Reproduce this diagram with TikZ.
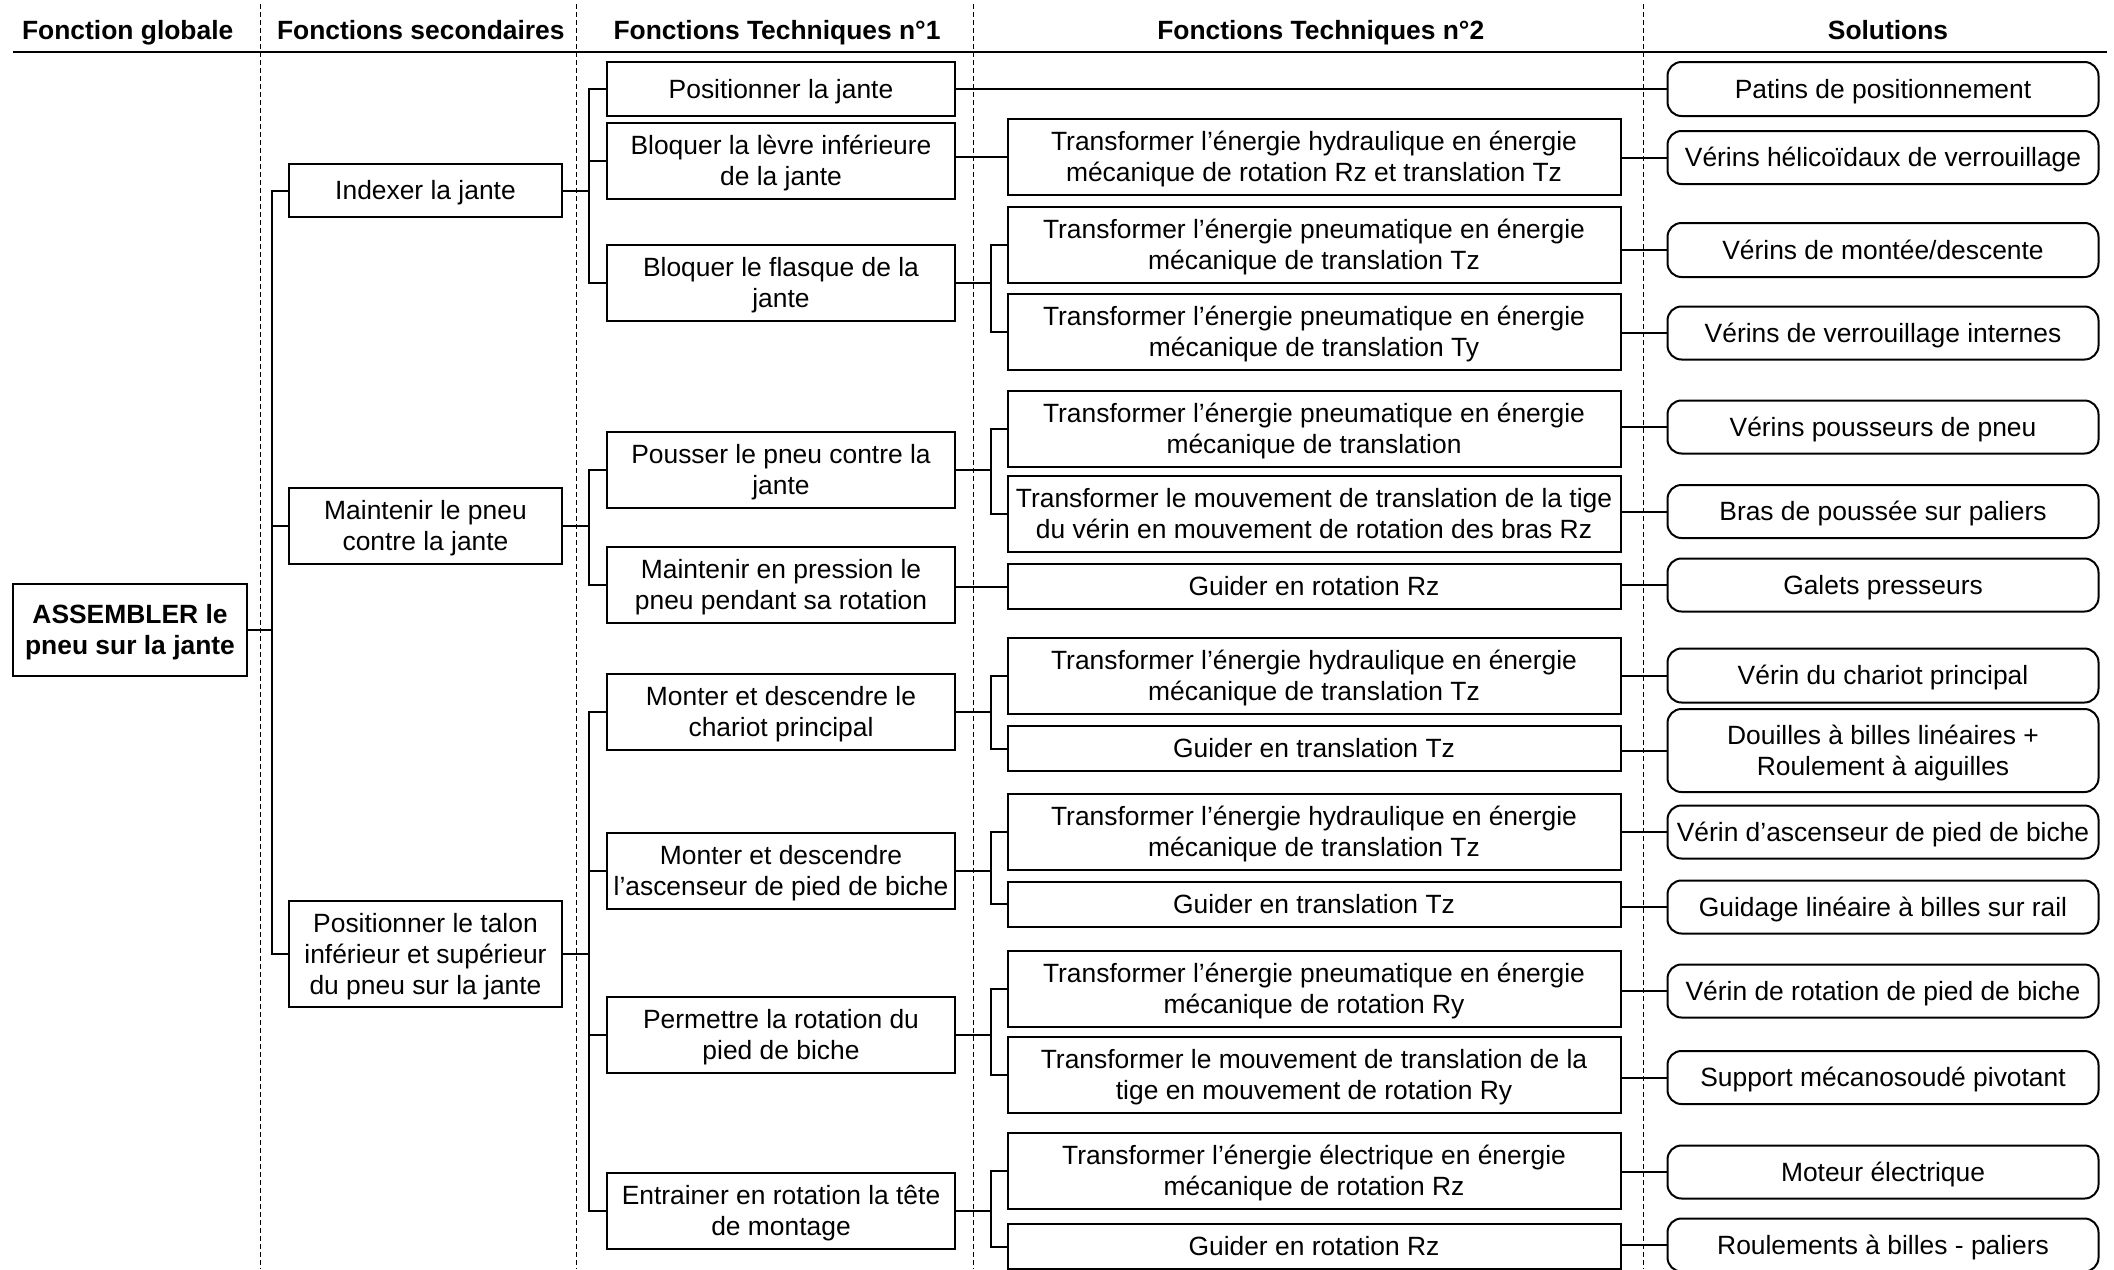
\documentclass[tikz,border=0pt]{standalone}
\usepackage{fontspec}
\setmainfont{Liberation Sans}
\newcommand\diagfont{\fontsize{26.4}{31}\selectfont}
\newcommand\linestrut{\rule[-5.6pt]{0pt}{29.5pt}}
\begin{document}
\begin{tikzpicture}[x=1pt,y=-1pt,
  fbox/.style={draw, line width=2pt, inner sep=0pt, outer sep=0pt, align=center, font=\diagfont,
    execute at begin node=\linestrut, execute at end node=\linestrut},
  ht/.style={minimum height=#1pt},
  glob/.style={fbox, line width=2.7pt, minimum width=234pt, font=\diagfont\bfseries},
  sec/.style={fbox, minimum width=273pt},
  fta/.style={fbox, minimum width=348pt},
  ftb/.style={fbox, minimum width=613pt},
  sol/.style={fbox, rounded corners=14pt, minimum width=431pt},
  conn/.style={line width=2pt},
  sepline/.style={line width=1pt, dash pattern=on 5pt off 3pt},
  hdr/.style={inner sep=0pt, font=\diagfont\bfseries,
    execute at begin node=\linestrut},
  rule/.style={line width=2.7pt}]
\fill[white] (0,0) rectangle (2114,1269);
\useasboundingbox (0,0) rectangle (2114,1269);

% column separators
\draw[sepline] (260,4) -- (260,1269);
\draw[sepline] (576,4) -- (576,1269);
\draw[sepline] (973.5,4) -- (973.5,1269);
\draw[sepline] (1643,4) -- (1643,1269);

% headers
\node[hdr] (h1) at (127.7,30) {Fonction globale};
\node[hdr] (h2) at (420.8,30) {Fonctions secondaires};
\node[hdr] (h3) at (777,30) {Fonctions Techniques n°1};
\node[hdr] (h4) at (1320.7,30) {Fonctions Techniques n°2};
\node[hdr] (h5) at (1888,30) {Solutions};
\coordinate (rl) at (13,52);
\coordinate (rr) at (2107,52);
\draw[rule] (rl) -- (rr);

% bus coordinates
\coordinate (b0) at (271.5,0);
\coordinate (b1) at (589,0);
\coordinate (b2) at (991,0);

% global function
\node[glob, ht=92] (g) at (130,630) {\linestrut ASSEMBLER le\\pneu sur la jante\linestrut};

% secondary functions
\node[sec, ht=53] (sa) at (425.5,190.5) {Indexer la jante};
\node[sec, ht=76] (sb) at (425.5,526) {\linestrut Maintenir le pneu\\contre la jante\linestrut};
\node[sec, ht=106] (sc) at (425.5,954) {\linestrut Positionner le talon\\inférieur et supérieur\\du pneu sur la jante\linestrut};

% technical functions 1
\node[fta, ht=54] (p1) at (781,89) {Positionner la jante};
\node[fta, ht=76] (p2) at (781,161) {\linestrut Bloquer la lèvre inférieure\\de la jante\linestrut};
\node[fta, ht=76] (p3) at (781,283) {\linestrut Bloquer le flasque de la\\jante\linestrut};
\node[fta, ht=76] (p4) at (781,470) {\linestrut Pousser le pneu contre la\\jante\linestrut};
\node[fta, ht=76] (p5) at (781,585) {\linestrut Maintenir en pression le\\pneu pendant sa rotation\linestrut};
\node[fta, ht=76] (p6) at (781,712) {\linestrut Monter et descendre le\\chariot principal\linestrut};
\node[fta, ht=76] (p7) at (781,871) {\linestrut Monter et descendre\\l’ascenseur de pied de biche\linestrut};
\node[fta, ht=76] (p8) at (781,1035) {\linestrut Permettre la rotation du\\pied de biche\linestrut};
\node[fta, ht=76] (p9) at (781,1211) {\linestrut Entrainer en rotation la tête\\de montage\linestrut};

% technical functions 2
\node[ftb, ht=76] (qa) at (1314,157) {\linestrut Transformer l’énergie hydraulique en énergie\\mécanique de rotation Rz et translation Tz\linestrut};
\node[ftb, ht=76] (qb) at (1314,245) {\linestrut Transformer l’énergie pneumatique en énergie\\mécanique de translation Tz\linestrut};
\node[ftb, ht=76] (qc) at (1314,331.5) {\linestrut Transformer l’énergie pneumatique en énergie\\mécanique de translation Ty\linestrut};
\node[ftb, ht=76] (qd) at (1314,428.5) {\linestrut Transformer l’énergie pneumatique en énergie\\mécanique de translation\linestrut};
\node[ftb, ht=76] (qe) at (1314,514) {\linestrut Transformer le mouvement de translation de la tige\\du vérin en mouvement de rotation des bras Rz\linestrut};
\node[ftb, ht=45] (qf) at (1314,586.5) {Guider en rotation Rz};
\node[ftb, ht=76] (qg) at (1314,676) {\linestrut Transformer l’énergie hydraulique en énergie\\mécanique de translation Tz\linestrut};
\node[ftb, ht=45] (qh) at (1314,748.5) {Guider en translation Tz};
\node[ftb, ht=76] (qi) at (1314,832) {\linestrut Transformer l’énergie hydraulique en énergie\\mécanique de translation Tz\linestrut};
\node[ftb, ht=45] (qj) at (1314,904) {Guider en translation Tz};
\node[ftb, ht=76] (qk) at (1314,989) {\linestrut Transformer l’énergie pneumatique en énergie\\mécanique de rotation Ry\linestrut};
\node[ftb, ht=76] (ql) at (1314,1075) {\linestrut Transformer le mouvement de translation de la\\tige en mouvement de rotation Ry\linestrut};
\node[ftb, ht=76] (qm) at (1314,1171) {\linestrut Transformer l’énergie électrique en énergie\\mécanique de rotation Rz\linestrut};
\node[ftb, ht=45] (qn) at (1314,1246.5) {Guider en rotation Rz};

% solutions
\node[sol, ht=54] (s1) at (1883,89) {Patins de positionnement};
\node[sol, ht=53] (s2) at (1883,157.5) {Vérins hélicoïdaux de verrouillage};
\node[sol, ht=54] (s3) at (1883,250) {Vérins de montée/descente};
\node[sol, ht=53] (s4) at (1883,333) {Vérins de verrouillage internes};
\node[sol, ht=53] (s5) at (1883,427) {Vérins pousseurs de pneu};
\node[sol, ht=53] (s6) at (1883,511.5) {Bras de poussée sur paliers};
\node[sol, ht=53] (s7) at (1883,585) {Galets presseurs};
\node[sol, ht=54] (s8) at (1883,675.5) {Vérin du chariot principal};
\node[sol, ht=83] (s9) at (1883,750.5) {\linestrut Douilles à billes linéaires +\\Roulement à aiguilles\linestrut};
\node[sol, ht=53] (s10) at (1883,832) {Vérin d’ascenseur de pied de biche};
\node[sol, ht=53] (s11) at (1883,907) {Guidage linéaire à billes sur rail};
\node[sol, ht=53] (s12) at (1883,991) {Vérin de rotation de pied de biche};
\node[sol, ht=53] (s13) at (1883,1077.5) {Support mécanosoudé pivotant};
\node[sol, ht=53] (s14) at (1883,1172) {Moteur électrique};
\node[sol, ht=53] (s15) at (1883,1245) {Roulements à billes - paliers};

% global -> secondary
\draw[conn] (g.east) -- (g.east -| b0);
\draw[conn] (sa.west) -| (b0 |- sc.west) -- (sc.west);
\draw[conn] (sb.west) -- (sb.west -| b0);

% secondary -> technical 1
\draw[conn] (sa.east) -- (sa.east -| b1);
\draw[conn] (p1.west) -| (b1 |- p3.west) -- (p3.west);
\draw[conn] (p2.west) -- (p2.west -| b1);
\draw[conn] (sb.east) -- (sb.east -| b1);
\draw[conn] (p4.west) -| (b1 |- p5.west) -- (p5.west);
\draw[conn] (sc.east) -- (sc.east -| b1);
\draw[conn] (p6.west) -| (b1 |- p9.west) -- (p9.west);
\draw[conn] (p7.west) -- (p7.west -| b1);
\draw[conn] (p8.west) -- (p8.west -| b1);

% technical 1 -> technical 2
\draw[conn] (qa.west) -- (qa.west -| p2.east);
\draw[conn] (p3.east) -- (p3.east -| b2);
\draw[conn] (qb.west) -| (b2 |- qc.west) -- (qc.west);
\draw[conn] (p4.east) -- (p4.east -| b2);
\draw[conn] (qd.west) -| (b2 |- qe.west) -- (qe.west);
\draw[conn] (qf.west) -- (qf.west -| p5.east);
\draw[conn] (p6.east) -- (p6.east -| b2);
\draw[conn] (qg.west) -| (b2 |- qh.west) -- (qh.west);
\draw[conn] (p7.east) -- (p7.east -| b2);
\draw[conn] (qi.west) -| (b2 |- qj.west) -- (qj.west);
\draw[conn] (p8.east) -- (p8.east -| b2);
\draw[conn] (qk.west) -| (b2 |- ql.west) -- (ql.west);
\draw[conn] (p9.east) -- (p9.east -| b2);
\draw[conn] (qm.west) -| (b2 |- qn.west) -- (qn.west);

% -> solutions
\draw[conn] (s1.west) -- (s1.west -| p1.east);
\draw[conn] (s2.west) -- (s2.west -| qa.east);
\draw[conn] (s3.west) -- (s3.west -| qb.east);
\draw[conn] (s4.west) -- (s4.west -| qc.east);
\draw[conn] (s5.west) -- (s5.west -| qd.east);
\draw[conn] (s6.west) -- (s6.west -| qe.east);
\draw[conn] (s7.west) -- (s7.west -| qf.east);
\draw[conn] (s8.west) -- (s8.west -| qg.east);
\draw[conn] (s9.west) -- (s9.west -| qh.east);
\draw[conn] (s10.west) -- (s10.west -| qi.east);
\draw[conn] (s11.west) -- (s11.west -| qj.east);
\draw[conn] (s12.west) -- (s12.west -| qk.east);
\draw[conn] (s13.west) -- (s13.west -| ql.east);
\draw[conn] (s14.west) -- (s14.west -| qm.east);
\draw[conn] (s15.west) -- (s15.west -| qn.east);
\end{tikzpicture}
\end{document}
